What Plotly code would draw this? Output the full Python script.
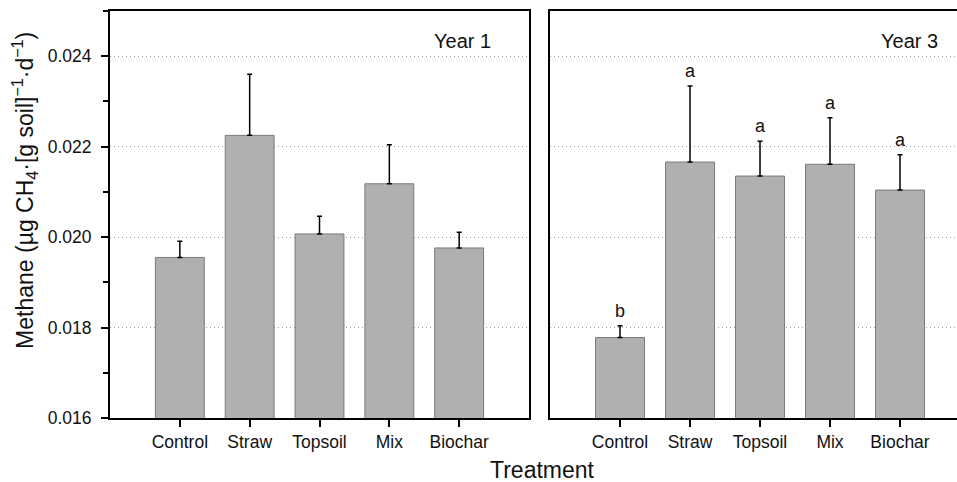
import plotly.graph_objects as go

# Treatment means and upper error-bar ends (µg CH4 per g soil per day)
treatments = ["Control", "Straw", "Topsoil", "Mix", "Biochar"]

year1_mean = [0.01955, 0.02225, 0.02007, 0.02118, 0.01976]
year1_upper = [0.01991, 0.02360, 0.02046, 0.02204, 0.02011]

year3_mean = [0.01778, 0.02166, 0.02135, 0.02161, 0.02104]
year3_upper = [0.01804, 0.02334, 0.02212, 0.02264, 0.02182]
year3_letters = ["b", "a", "a", "a", "a"]

y_ticks = [0.016, 0.018, 0.020, 0.022, 0.024]

FONT = "Liberation Sans, Arial, Helvetica, sans-serif"
TEXT = "#111111"
BAR_FILL = "#b0b0b0"
BAR_EDGE = "#7a7a7a"

x_pos = list(range(len(treatments)))


def bar_trace(means, uppers, xa, ya):
    return go.Bar(
        x=x_pos,
        y=means,
        width=0.7,
        marker=dict(color=BAR_FILL, line=dict(color=BAR_EDGE, width=1)),
        error_y=dict(
            type="data",
            symmetric=False,
            array=[u - m for u, m in zip(uppers, means)],
            arrayminus=[0] * len(means),
            color="black",
            thickness=1.5,
            width=2.5,
        ),
        xaxis=xa,
        yaxis=ya,
        showlegend=False,
        hoverinfo="skip",
    )


fig = go.Figure()
fig.add_trace(bar_trace(year1_mean, year1_upper, "x", "y"))
fig.add_trace(bar_trace(year3_mean, year3_upper, "x2", "y2"))

axis_common = dict(
    showline=True,
    linecolor="black",
    linewidth=2,
    ticks="outside",
    ticklen=7,
    tickwidth=1.5,
    tickcolor="black",
    tickfont=dict(family=FONT, size=17.5, color=TEXT),
    zeroline=False,
)

y_common = dict(
    axis_common,
    range=[0.016, 0.025],
    tickvals=y_ticks,
    showgrid=True,
    gridcolor="#9a9a9a",
    griddash="1px,3px",
    gridwidth=1,
)

fig.update_layout(
    width=957,
    height=482,
    margin=dict(l=110, r=0, t=11, b=64),
    plot_bgcolor="white",
    paper_bgcolor="white",
    xaxis=dict(
        axis_common,
        domain=[0, 0.4947],
        range=[-1, 5],
        tickvals=x_pos,
        ticktext=treatments,
        mirror=True,
        showgrid=False,
    ),
    xaxis2=dict(
        axis_common,
        domain=[0.5195, 1],
        range=[-1, 4.814],
        tickvals=x_pos,
        ticktext=treatments,
        mirror=True,
        showgrid=False,
        anchor="y2",
    ),
    yaxis=dict(
        y_common,
        tickformat=".3f",
        ticklabelstandoff=6,
        mirror=True,
        minor=dict(dtick=0.001, tick0=0.016, ticks="outside", ticklen=5,
                   tickwidth=1.5, tickcolor="black", showgrid=False),
    ),
    yaxis2=dict(
        y_common,
        anchor="x2",
        matches="y",
        ticks="",
        showticklabels=False,
        mirror=False,
    ),
)

# Y-axis title
fig.add_annotation(
    x=-0.1015, y=0.558, xref="paper", yref="paper",
    text="Methane (µg CH<sub>4</sub>·[g soil]<sup>−1</sup>·d<sup>−1</sup>)",
    textangle=-90, showarrow=False, xanchor="center", yanchor="middle",
    font=dict(family=FONT, size=23, color=TEXT),
)

# Panel labels
fig.add_annotation(x=4.48, y=0.02433, xref="x", yref="y", text="Year 1",
                   showarrow=False, xanchor="right", yanchor="middle",
                   font=dict(family=FONT, size=20, color=TEXT))
fig.add_annotation(x=4.57, y=0.02433, xref="x2", yref="y2", text="Year 3",
                   showarrow=False, xanchor="right", yanchor="middle",
                   font=dict(family=FONT, size=20, color=TEXT))

# Significance letters above the Year 3 error bars
for xi, top, letter in zip(x_pos, year3_upper, year3_letters):
    fig.add_annotation(x=xi, y=top, xref="x2", yref="y2", text=letter,
                       showarrow=False, xanchor="center", yanchor="bottom",
                       yshift=3, font=dict(family=FONT, size=18, color=TEXT))

# Shared x-axis title
fig.add_annotation(x=0.5, y=0, xref="paper", yref="paper", text="Treatment",
                   showarrow=False, xanchor="center", yanchor="top",
                   yshift=-37, xshift=9,
                   font=dict(family=FONT, size=23, color=TEXT))

fig.write_html("out.html")
